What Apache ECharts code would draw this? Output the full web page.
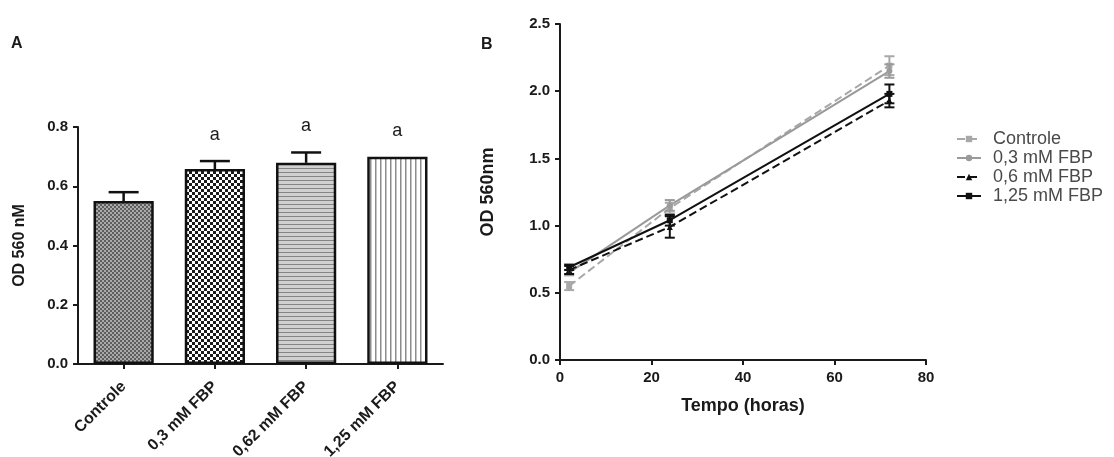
<!DOCTYPE html>
<html>
<head>
<meta charset="utf-8">
<script src="https://cdn.jsdelivr.net/npm/echarts@6/dist/echarts.min.js"></script>
<style>
  html, body { margin: 0; padding: 0; background: #fff; }
  #chart { width: 1114px; height: 457px; }
</style>
</head>
<body>
<div id="chart"></div>
<script>
// ---------- Data: panel A (bars) ----------
const barCategories = ['Controle', '0,3 mM FBP', '0,62 mM FBP', '1,25 mM FBP'];
const barMeans = [0.55, 0.658, 0.679, 0.70];
const barErrors = [0.03, 0.027, 0.035, 0.0];
const barSigLabels = ['', 'a', 'a', 'a'];
const barTicks = [0, 0.2, 0.4, 0.6, 0.8];

// ---------- Data: panel B (growth lines) ----------
const timePoints = [2, 24, 72];
const seriesNames = ['Controle', '0,3 mM FBP', '0,6 mM FBP', '1,25 mM FBP'];
const controleMeans = [0.55, 1.13, 2.19];
const controleErrors = [0.03, 0.04, 0.07];
const fbp03Means = [0.65, 1.15, 2.15];
const fbp03Errors = [0.02, 0.04, 0.05];
const fbp06Means = [0.67, 0.99, 1.93];
const fbp06Errors = [0.03, 0.08, 0.05];
const fbp125Means = [0.69, 1.04, 1.98];
const fbp125Errors = [0.02, 0.04, 0.07];
const lineTicksY = [0, 0.5, 1.0, 1.5, 2.0, 2.5];
const lineTicksX = [0, 20, 40, 60, 80];

const FONT = 'Arial, "Liberation Sans", Helvetica, sans-serif';

// ---------- Fill patterns ----------
function makePattern(w, h, draw) {
  const c = document.createElement('canvas');
  c.width = w; c.height = h;
  const ctx = c.getContext('2d');
  draw(ctx);
  return { image: c, repeat: 'repeat' };
}
const patFine = makePattern(4, 4, ctx => {
  ctx.fillStyle = '#a9a9a9'; ctx.fillRect(0, 0, 4, 4);
  ctx.fillStyle = '#5e5e5e'; ctx.fillRect(0, 0, 2, 2); ctx.fillRect(2, 2, 2, 2);
});
const patChecker = makePattern(6, 6, ctx => {
  ctx.fillStyle = '#ffffff'; ctx.fillRect(0, 0, 6, 6);
  ctx.fillStyle = '#1a1a1a'; ctx.fillRect(0, 0, 3, 3); ctx.fillRect(3, 3, 3, 3);
});
const patHoriz = makePattern(4, 4, ctx => {
  ctx.fillStyle = '#d0d0d0'; ctx.fillRect(0, 0, 4, 4);
  ctx.fillStyle = '#858585'; ctx.fillRect(0, 0, 4, 1);
});
const patVert = makePattern(5, 5, ctx => {
  ctx.fillStyle = '#ffffff'; ctx.fillRect(0, 0, 5, 5);
  ctx.fillStyle = '#8c8c8c'; ctx.fillRect(0, 0, 1.5, 5);
});
const barPatterns = [patFine, patChecker, patHoriz, patVert];

const axisLine = { show: true, lineStyle: { color: '#1a1a1a', width: 2 } };
const axisTick = { show: true, length: 5, lineStyle: { color: '#1a1a1a', width: 2 } };
const tickLabel = { color: '#1a1a1a', fontFamily: FONT, fontWeight: 'bold', fontSize: 15 };

// ---------- Line series ----------
const lineGroups = [
  { name: seriesNames[0], means: controleMeans, errs: controleErrors, color: '#a8a8a8', type: 'dashed', symbol: 'rect' },
  { name: seriesNames[1], means: fbp03Means, errs: fbp03Errors, color: '#9a9a9a', type: 'solid', symbol: 'circle' },
  { name: seriesNames[2], means: fbp06Means, errs: fbp06Errors, color: '#111111', type: 'dashed', symbol: 'triangle' },
  { name: seriesNames[3], means: fbp125Means, errs: fbp125Errors, color: '#111111', type: 'solid', symbol: 'rect' }
];

const lineSeries = [];
lineGroups.forEach(g => {
  lineSeries.push({
    name: g.name,
    type: 'line',
    xAxisIndex: 1, yAxisIndex: 1,
    data: timePoints.map((t, i) => [t, g.means[i]]),
    symbol: g.symbol,
    symbolSize: 6,
    itemStyle: { color: g.color },
    lineStyle: { color: g.color, width: 2, type: g.type },
    z: 3
  });
  lineSeries.push({
    name: g.name + ' (erro)',
    type: 'custom',
    xAxisIndex: 1, yAxisIndex: 1,
    data: timePoints.map((t, i) => [t, g.means[i], g.errs[i]]),
    renderItem: function (params, api) {
      const x = api.value(0), m = api.value(1), e = api.value(2);
      const hi = api.coord([x, m + e]);
      const lo = api.coord([x, m - e]);
      const cw = 5;
      const st = { stroke: g.color, lineWidth: 2 };
      return {
        type: 'group',
        children: [
          { type: 'line', shape: { x1: hi[0], y1: hi[1], x2: lo[0], y2: lo[1] }, style: st },
          { type: 'line', shape: { x1: hi[0] - cw, y1: hi[1], x2: hi[0] + cw, y2: hi[1] }, style: st },
          { type: 'line', shape: { x1: lo[0] - cw, y1: lo[1], x2: lo[0] + cw, y2: lo[1] }, style: st }
        ]
      };
    },
    z: 4
  });
});

const option = {
  backgroundColor: '#ffffff',
  animation: false,
  graphic: [
    { type: 'text', left: 11, top: 36, style: { text: 'A', font: 'bold 16px ' + FONT, fill: '#1a1a1a' } },
    { type: 'text', left: 481, top: 37, style: { text: 'B', font: 'bold 16px ' + FONT, fill: '#1a1a1a' } }
  ],
  legend: {
    orient: 'vertical',
    left: 951,
    top: 125,
    itemGap: 1,
    itemWidth: 24,
    itemHeight: 8,
    data: seriesNames,
    textStyle: { fontFamily: FONT, fontSize: 18, color: '#4a4a4a', padding: [0, 0, 0, 7] }
  },
  grid: [
    { left: 78, top: 127, width: 365, height: 237, outerBoundsMode: 'none', containLabel: false },
    { left: 560, top: 24, width: 366, height: 336, outerBoundsMode: 'none', containLabel: false }
  ],
  xAxis: [
    {
      gridIndex: 0,
      type: 'category',
      data: barCategories,
      axisLine: axisLine,
      axisTick: { show: true, alignWithLabel: true, length: 5, lineStyle: { color: '#1a1a1a', width: 2 } },
      axisLabel: Object.assign({}, tickLabel, { fontSize: 16, rotate: 45, margin: 20, interval: 0 })
    },
    {
      gridIndex: 1,
      type: 'value',
      min: 0, max: 80, interval: 20,
      axisLine: axisLine,
      axisTick: axisTick,
      splitLine: { show: false },
      axisLabel: Object.assign({}, tickLabel, { margin: 10 }),
      name: 'Tempo (horas)',
      nameLocation: 'middle',
      nameGap: 37,
      nameTextStyle: { fontFamily: FONT, fontWeight: 'bold', fontSize: 18, color: '#1a1a1a' }
    }
  ],
  yAxis: [
    {
      gridIndex: 0,
      type: 'value',
      min: 0, max: 0.8, interval: 0.2,
      axisLine: axisLine,
      axisTick: axisTick,
      splitLine: { show: false },
      axisLabel: Object.assign({}, tickLabel, { formatter: v => v.toFixed(1), margin: 10 }),
      name: 'OD 560 nM',
      nameLocation: 'middle',
      nameGap: 50,
      nameTextStyle: { fontFamily: FONT, fontWeight: 'bold', fontSize: 16, color: '#1a1a1a' }
    },
    {
      gridIndex: 1,
      type: 'value',
      min: 0, max: 2.5, interval: 0.5,
      axisLine: axisLine,
      axisTick: axisTick,
      splitLine: { show: false },
      axisLabel: Object.assign({}, tickLabel, { formatter: v => v.toFixed(1), margin: 10 }),
      name: 'OD 560nm',
      nameLocation: 'middle',
      nameGap: 63,
      nameTextStyle: { fontFamily: FONT, fontWeight: 'bold', fontSize: 18, color: '#1a1a1a' }
    }
  ],
  series: [
    {
      name: 'barras',
      type: 'bar',
      xAxisIndex: 0, yAxisIndex: 0,
      barWidth: '66%',
      data: barMeans.map((v, i) => ({
        value: v,
        itemStyle: { color: barPatterns[i], borderColor: '#111', borderWidth: 2.5 }
      })),
      z: 2
    },
    {
      name: 'erro barras',
      type: 'custom',
      xAxisIndex: 0, yAxisIndex: 0,
      data: barMeans.map((v, i) => [i, v, barErrors[i]]),
      renderItem: function (params, api) {
        const i = api.value(0), m = api.value(1), e = api.value(2);
        const base = api.coord([i, m]);
        const top = api.coord([i, m + e]);
        const cw = 15;
        const st = { stroke: '#111', lineWidth: 2.5 };
        const children = [];
        if (e > 0) {
          children.push({ type: 'line', shape: { x1: top[0], y1: base[1], x2: top[0], y2: top[1] }, style: st });
          children.push({ type: 'line', shape: { x1: top[0] - cw, y1: top[1], x2: top[0] + cw, y2: top[1] }, style: st });
        }
        if (barSigLabels[i]) {
          children.push({
            type: 'text',
            style: {
              text: barSigLabels[i], x: top[0], y: top[1] - 26,
              align: 'center', verticalAlign: 'middle',
              font: '18px ' + FONT, fill: '#1a1a1a'
            }
          });
        }
        return { type: 'group', children: children };
      },
      z: 5
    }
  ].concat(lineSeries)
};

const chart = echarts.init(document.getElementById('chart'), null, { renderer: 'canvas' });
chart.setOption(option);
</script>
</body>
</html>
